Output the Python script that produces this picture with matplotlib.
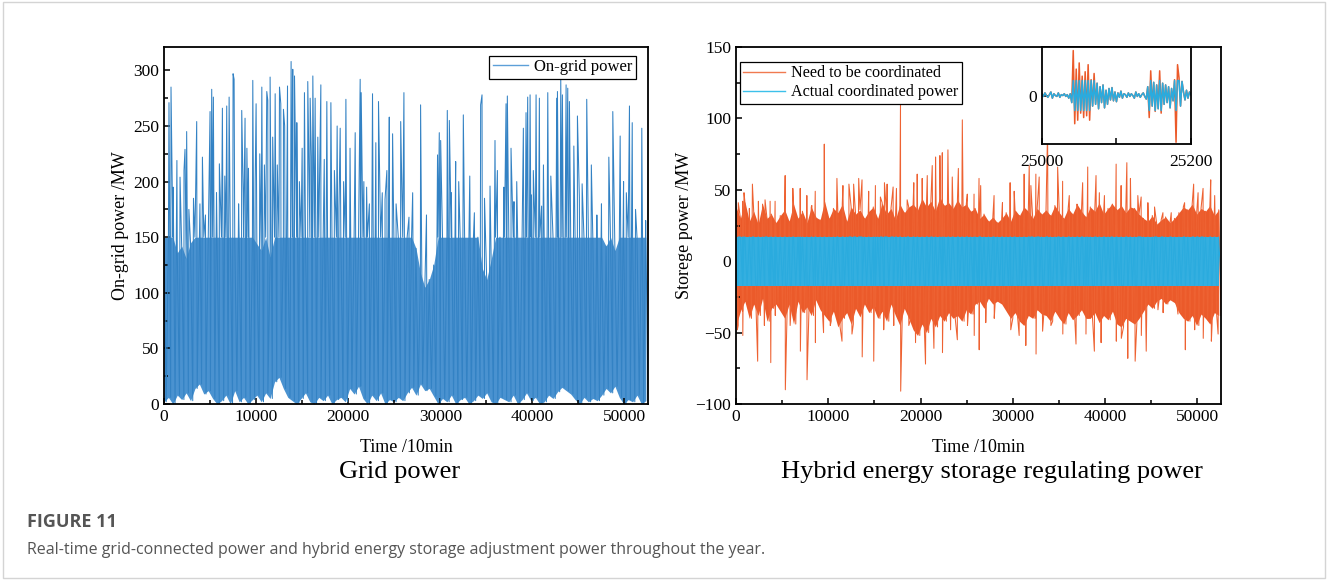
import numpy as np
import matplotlib.pyplot as plt
from matplotlib.patches import Rectangle

YEAR_STEPS = 52560      # 10-min steps in one year
STORAGE_LIMIT = 17      # MW, hybrid storage rating

# ---- left panel: on-grid power (MW), base envelope read per ~480 steps ----
grid_hi = [150, 150, 150, 136, 142, 131, 145, 150, 150, 150,
           150, 150, 150, 150, 150, 150, 150, 150, 150, 150,
           150, 144, 138, 150, 132, 150, 150, 150, 150, 150,
           150, 150, 150, 150, 150, 150, 150, 150, 150, 150,
           150, 150, 150, 150, 150, 150, 150, 150, 150, 150,
           150, 150, 150, 150, 150, 150, 150, 140, 118, 105,
           112, 125, 150, 150, 150, 150, 150, 150, 150, 150,
           150, 150, 122, 112, 130, 150, 150, 150, 150, 150,
           150, 150, 150, 150, 150, 150, 150, 150, 150, 150,
           150, 150, 150, 150, 150, 150, 150, 150, 150, 150,
           142, 150, 138, 150, 150, 150, 150, 150, 150, 150]
grid_lo = [2, 6, 0, 8, 4, 10, 3, 14, 18, 9,
           12, 5, 0, 3, 8, 0, 12, 2, 6, 0,
           4, 8, 2, 10, 5, 20, 24, 14, 6, 3,
           0, 5, 10, 2, 0, 6, 3, 8, 0, 4,
           6, 2, 14, 9, 16, 5, 0, 8, 3, 10,
           0, 4, 2, 6, 3, 10, 15, 8, 18, 12,
           14, 7, 0, 5, 2, 8, 0, 4, 6, 0,
           3, 8, 5, 10, 2, 0, 6, 4, 2, 8,
           0, 4, 10, 3, 6, 0, 2, 8, 5, 11,
           15, 12, 9, 4, 0, 6, 2, 5, 3, 8,
           14, 10, 16, 6, 0, 4, 2, 8, 0, 3]
grid_spike_t = [540, 760, 1000, 1400, 1740, 2170, 2280, 2460, 2700, 3200,
                3550, 4170, 4500, 5000, 5180, 5360, 5700, 6010, 6340, 6810,
                7070, 7500, 7610, 8100, 8440, 8800, 9000, 9170, 9640, 9900,
                10000, 10400, 10620, 11160, 11270, 11520, 11800, 12070, 12300, 12540,
                12680, 12970, 13100, 13410, 13800, 13980, 14170, 14420, 14700, 15000,
                15250, 15610, 15870, 16160, 16410, 16700, 17030, 17400, 17680, 18120,
                18500, 18800, 19130, 19500, 19750, 20200, 20760, 21300, 21410, 22000,
                22300, 22640, 23000, 23290, 23700, 24200, 24460, 24820, 25200, 25700,
                26050, 27000, 27860, 28500, 29700, 29890, 30040, 30760, 30980, 31670,
                32000, 32500, 33200, 34380, 34530, 34800, 35940, 36200, 36900, 37140,
                37280, 37680, 38300, 39020, 39310, 39490, 39750, 39900, 40400, 40760,
                41200, 41670, 42000, 42640, 42720, 43080, 43260, 43660, 43840, 44020,
                44500, 44890, 45400, 45900, 46400, 47500, 48300, 48730, 49530, 49900,
                50540, 50840, 51200, 51880,
                3900, 6600, 8600, 10900, 14000, 16000, 19000, 21700, 24000, 26600,
                31200, 33700, 35400, 38000, 40100, 41000, 45100, 47000, 50200, 52300]
grid_spike_v = [271, 285, 195, 219, 204, 210, 229, 245, 175, 185,
                254, 222, 170, 263, 283, 276, 190, 216, 266, 268,
                276, 297, 292, 180, 264, 257, 230, 212, 291, 200,
                270, 225, 285, 281, 273, 294, 240, 279, 215, 285,
                270, 265, 250, 286, 308, 301, 295, 253, 200, 230,
                280, 290, 275, 295, 275, 240, 287, 220, 272, 271,
                210, 250, 248, 200, 274, 230, 244, 292, 280, 195,
                180, 279, 235, 272, 190, 210, 258, 243, 180, 254,
                280, 190, 269, 170, 224, 244, 237, 264, 255, 218,
                200, 260, 205, 269, 278, 185, 237, 210, 195, 270,
                277, 230, 200, 248, 262, 276, 278, 188, 278, 275,
                215, 280, 205, 275, 281, 292, 278, 287, 284, 272,
                232, 259, 198, 274, 215, 180, 222, 263, 241, 200,
                268, 253, 175, 248,
                180, 205, 190, 215, 188, 222, 176, 200, 184, 168,
                190, 172, 196, 182, 210, 178, 186, 170, 190, 165]

# ---- right panel: power that needs coordination (MW) ----
need_hi = [38, 30, 42, 28, 35, 26, 40, 30, 33, 27,
           32, 36, 28, 40, 30, 35, 27, 38, 31, 29,
           42, 30, 37, 34, 40, 28, 38, 33, 36, 30,
           35, 38, 30, 41, 33, 37, 29, 40, 34, 38,
           40, 36, 44, 38, 42, 35, 45, 39, 41, 37,
           43, 38, 40, 35, 37, 30, 33, 28, 31, 27,
           30, 34, 28, 36, 32, 38, 35, 30, 37, 33,
           36, 32, 39, 34, 30, 37, 33, 40, 35, 31,
           38, 35, 41, 33, 37, 40, 36, 39, 34, 38,
           37, 33, 30, 28, 32, 26, 29, 31, 27, 30,
           34, 38, 36, 40, 33, 37, 35, 39, 32, 36]
need_lo = [-45, -35, -28, -40, -30, -38, -26, -42, -33, -30,
           -35, -40, -30, -44, -28, -36, -32, -38, -27, -34,
           -38, -42, -35, -46, -40, -36, -44, -33, -39, -30,
           -36, -32, -40, -35, -42, -30, -38, -45, -33, -40,
           -48, -52, -44, -50, -40, -46, -38, -42, -36, -40,
           -38, -42, -34, -37, -30, -28, -33, -26, -30, -28,
           -30, -35, -40, -36, -42, -45, -38, -40, -34, -37,
           -38, -42, -35, -40, -44, -36, -41, -38, -34, -40,
           -40, -36, -43, -38, -41, -35, -44, -46, -40, -42,
           -44, -40, -35, -30, -33, -28, -26, -30, -27, -29,
           -36, -40, -42, -38, -45, -37, -40, -44, -36, -38]
need_spike_t = [250, 720, 870, 1450, 1780, 2430, 3150, 3700, 4240, 5330,
                6160, 6960, 7680, 8220, 8590, 9570, 10940, 11590, 12240, 12750,
                13300, 13660, 14380, 15110, 15650, 16090, 16380, 17030, 17390, 17830,
                18550, 19270, 19640, 20180, 20730, 21270, 21630, 22100, 22360, 22970,
                23440, 24100, 24530, 25070, 25800, 26340, 26520, 27970, 28880, 29710,
                30150, 31230, 31780, 31960, 32500, 32860, 33770, 34860, 35400, 36120,
                37030, 37570, 38120, 39020, 39380, 39930, 40650, 41200, 41740, 42360,
                42750, 43550, 43910, 44640, 45360, 46270, 47170, 48620, 49600, 50080,
                50620, 51450, 51880,
                150, 740, 2350, 3080, 3770, 4260, 5350, 5870, 6980, 7700,
                8610, 9490, 10220, 11490, 12570, 13680, 14930, 16010, 17100, 17850,
                18730, 19460, 20540, 21450, 22380, 23260, 23990, 25090, 25820, 26360,
                27070, 27990, 28900, 29780, 30690, 31410, 32520, 33230, 34130, 35420,
                36850, 37930, 38840, 39570, 41220, 41760, 42460, 43260, 43930, 44460,
                45730, 46290, 47900, 48700, 49710, 50640, 51520, 52250]
need_spike_v = [41, 42, 48, 37, 54, 42, 43, 42, 42, 60,
                51, 51, 46, 39, 49, 82, 58, 53, 54, 54,
                58, 57, 49, 53, 45, 55, 54, 52, 51, 110,
                43, 55, 61, 58, 60, 67, 73, 74, 76, 78,
                59, 65, 99, 47, 47, 58, 53, 46, 41, 55,
                49, 61, 67, 53, 61, 59, 92, 66, 56, 46,
                36, 55, 66, 60, 48, 46, 38, 68, 53, 69,
                58, 46, 45, 41, 38, 34, 34, 41, 54, 48,
                51, 57, 46,
                -48, -52, -70, -45, -71, -38, -90, -45, -63, -83,
                -57, -50, -45, -56, -51, -67, -70, -48, -45, -91,
                -45, -57, -72, -61, -64, -48, -55, -45, -52, -62,
                -43, -40, -28, -48, -52, -59, -65, -49, -45, -51,
                -58, -51, -63, -57, -56, -54, -68, -70, -52, -63,
                -34, -36, -37, -62, -48, -54, -56, -51]

# ---- inset: steps 25000-25200 (every 2nd step) ----
zoom_start = 25000
zoom_need = [2, -1, 3, 0, -2, 1, 4, -3, 2, 0,
             -1, 3, -2, 1, 0, 2, -1, 1, -3, 2,
             -8, 51, -32, 30, -28, 37, -20, 22, -25, 27,
             -23, 35, -28, 18, -12, 25, -10, 14, -15, 10,
             -8, 12, -14, 6, -10, 8, -5, 9, -6, 4,
             -7, 3, -2, 5, -3, 2, 1, -2, 3, -1,
             2, 0, -3, 4, -1, 2, -2, 1, 3, -1,
             -4, 10, -25, 28, -12, 15, -18, 12, -15, 28,
             -20, 14, -10, 12, -8, 10, -14, 8, -6, 18,
             -53, 35, 20, -12, 16, 4, -5, 6, -3, 4, 1]


def build_series(hi, lo, spike_t, spike_v):
    n = len(hi)
    base_v = np.empty(2 * n)
    base_v[0::2] = hi
    base_v[1::2] = lo
    base_t = np.linspace(0, YEAR_STEPS, 2 * n)
    t = np.concatenate([base_t, spike_t])
    v = np.concatenate([base_v, spike_v])
    order = np.argsort(t, kind='stable')
    return t[order], v[order]


def band(hi, lo):
    # envelope of the dense part: one (hi, lo) pair per time slot
    tt = np.linspace(0, YEAR_STEPS, 2 * len(hi))
    return tt[0::2], np.minimum(hi, lo), np.maximum(hi, lo)


plt.rcParams['font.family'] = 'Liberation Serif'

BLUE = '#3382c4'
BLUE_FILL = '#4a92d0'
RED = '#ee6232'
RED_FILL = '#eb5a2a'
CYAN = '#2aabde'
CYAN_FILL = '#34afe0'

fig = plt.figure(figsize=(13.28, 5.8), dpi=100)
fig.patches.append(Rectangle((0.0025, 0.004), 0.995, 0.992, transform=fig.transFigure,
                             fill=False, edgecolor='#d4d4d4', linewidth=1.0))


def style_axes(ax):
    for s in ax.spines.values():
        s.set_linewidth(1.3)
        s.set_zorder(10)
    ax.tick_params(which='both', direction='in', labelsize=12.5, width=1.1)
    ax.tick_params(which='major', length=4.5)
    ax.tick_params(which='minor', length=3)


# left panel
ax1 = fig.add_axes([0.1235, 0.3034, 0.3645, 0.6155])
bt, blo, bhi = band(grid_hi, grid_lo)
ax1.fill_between(bt, blo, bhi, color=BLUE_FILL, lw=0, zorder=1)
t, v = build_series(grid_hi, grid_lo, grid_spike_t, grid_spike_v)
ax1.plot(t, v, color=BLUE, lw=0.75, label='On-grid power', zorder=2)
ax1.set_xlim(0, YEAR_STEPS)
ax1.set_ylim(0, 321)
ax1.set_xticks([0, 10000, 20000, 30000, 40000, 50000])
ax1.set_xticks(np.arange(5000, YEAR_STEPS, 10000), minor=True)
ax1.set_yticks(np.arange(0, 301, 50))
ax1.set_yticks(np.arange(25, 321, 50), minor=True)
style_axes(ax1)
ax1.set_ylabel('On-grid power /MW', fontsize=13, labelpad=3)
ax1.set_xlabel('Time /10min', fontsize=13, labelpad=10)
leg = ax1.legend(loc='upper right', bbox_to_anchor=(0.975, 0.975), fontsize=12,
                 frameon=True, fancybox=False, edgecolor='black', borderpad=0.2,
                 handlelength=2.1, handletextpad=0.4, borderaxespad=0,
                 framealpha=1)
leg.get_frame().set_linewidth(0.9)
leg.get_lines()[0].set_color('#5c9fd8')
leg.get_lines()[0].set_linewidth(1.0)
leg.set_zorder(20)
fig.text(0.301, 0.187, 'Grid power', ha='center', va='center', fontsize=19)

# right panel
ax2 = fig.add_axes([0.5542, 0.3034, 0.3652, 0.6155])
bt, blo, bhi = band(need_hi, need_lo)
ax2.fill_between(bt, blo, bhi, color=RED_FILL, lw=0, zorder=1)
t, v = build_series(need_hi, need_lo, need_spike_t, need_spike_v)
ax2.plot(t, v, color=RED, lw=0.75, label='Need to be coordinated', zorder=2)
ax2.fill_between(bt, np.clip(blo, -STORAGE_LIMIT, STORAGE_LIMIT),
                 np.clip(bhi, -STORAGE_LIMIT, STORAGE_LIMIT), color=CYAN_FILL,
                 lw=0, zorder=3)
ax2.plot(t, np.clip(v, -STORAGE_LIMIT, STORAGE_LIMIT), color=CYAN, lw=0.75,
         label='Actual coordinated power', zorder=4)
ax2.set_xlim(0, YEAR_STEPS)
ax2.set_ylim(-100, 150)
ax2.set_xticks([0, 10000, 20000, 30000, 40000, 50000])
ax2.set_xticks(np.arange(5000, YEAR_STEPS, 10000), minor=True)
ax2.set_yticks(np.arange(-100, 151, 50))
ax2.set_yticks(np.arange(-75, 151, 50), minor=True)
style_axes(ax2)
ax2.set_ylabel('Storege power /MW', fontsize=13, labelpad=2)
ax2.set_xlabel('Time /10min', fontsize=13, labelpad=10)
leg2 = ax2.legend(loc='upper left', bbox_to_anchor=(0.008, 0.958), fontsize=11.6,
                  frameon=True, fancybox=False, edgecolor='black', borderpad=0.2,
                  handlelength=2.6, handletextpad=0.4, labelspacing=0.2,
                  borderaxespad=0, framealpha=1)
leg2.get_frame().set_linewidth(0.9)
leg2.get_lines()[0].set_color('#f07a50')
leg2.get_lines()[1].set_color('#3cc0ea')
for ln in leg2.get_lines():
    ln.set_linewidth(1.0)
leg2.set_zorder(20)
fig.text(0.747, 0.187, 'Hybrid energy storage regulating power', ha='center',
         va='center', fontsize=19)

# inset
axi = fig.add_axes([0.7846, 0.7517, 0.1122, 0.1672])
zt = zoom_start + 2 * np.arange(len(zoom_need))
zv = np.array(zoom_need)
axi.plot(zt, zv, color=RED_FILL, lw=1.1)
axi.plot(zt, np.clip(zv, -STORAGE_LIMIT, STORAGE_LIMIT), color=CYAN, lw=1.1)
axi.set_xlim(zoom_start, zoom_start + 200)
axi.set_ylim(-55, 55)
axi.set_xticks([25000, 25200])
axi.set_xticks([25100], minor=True)
axi.set_yticks([0])
for s in axi.spines.values():
    s.set_linewidth(1.3)
axi.tick_params(which='both', direction='in', labelsize=12.5, width=1.1, length=4)
axi.tick_params(axis='x', pad=7)

# caption
fig.text(0.0203, 0.1, 'FIGURE 11', fontsize=13, fontweight='bold', color='#555555',
         family='Open Sans', va='center', fontstretch='condensed')
fig.text(0.0203, 0.052, 'Real-time grid-connected power and hybrid energy storage '
         'adjustment power throughout the year.', fontsize=11.5, color='#555555',
         family='Open Sans', va='center')

fig.savefig('out.png', dpi=100)
